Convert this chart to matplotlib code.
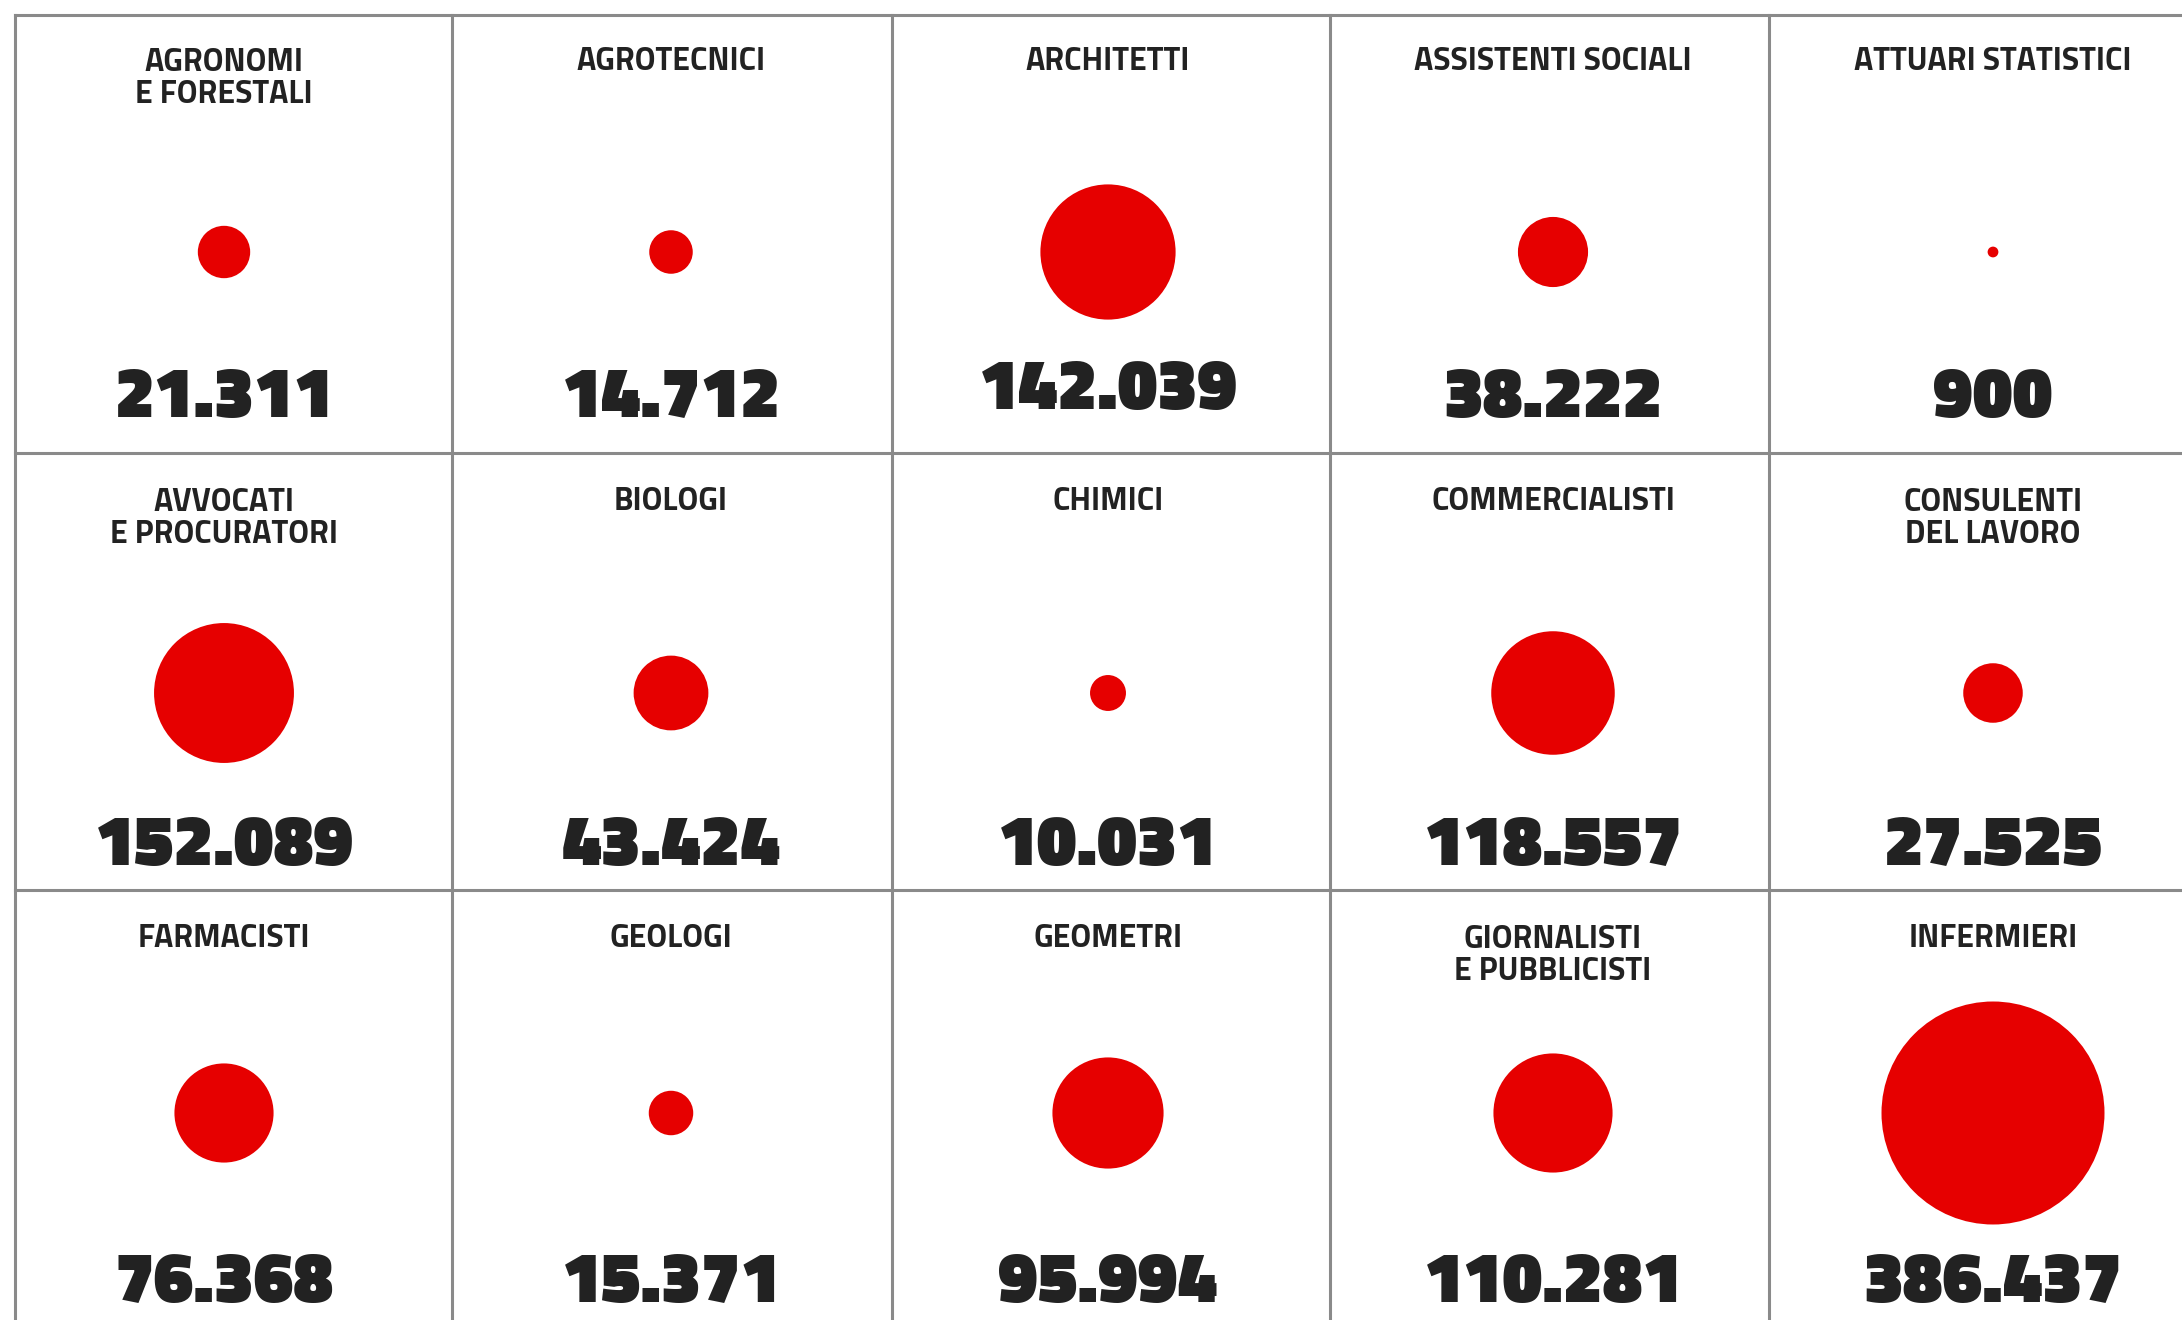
import numpy as np
import matplotlib.pyplot as plt
from matplotlib.patches import Circle

# professioni e iscritti
professions = [
    "AGRONOMI\nE FORESTALI", "AGROTECNICI", "ARCHITETTI", "ASSISTENTI SOCIALI", "ATTUARI STATISTICI",
    "AVVOCATI\nE PROCURATORI", "BIOLOGI", "CHIMICI", "COMMERCIALISTI", "CONSULENTI\nDEL LAVORO",
    "FARMACISTI", "GEOLOGI", "GEOMETRI", "GIORNALISTI\nE PUBBLICISTI", "INFERMIERI",
]
members = [
    21311, 14712, 142039, 38222, 900,
    152089, 43424, 10031, 118557, 27525,
    76368, 15371, 95994, 110281, 386437,
]

# layout in pixel
W, H = 2182, 1320
col_lines = [15, 452, 892, 1330, 1769]
row_lines = [15, 453, 890]
col_centers = [224, 671, 1108, 1553, 1993]
title_base = [70, 510, 947]
line_gap = 33
circle_y = [252, 693, 1113]
number_base = [417, 865, 1302]
max_radius = 111.5

red = "#e60000"
dark = "#222222"
grid_color = "#8a8a8a"
font = "Titillium Web"

fig = plt.figure(figsize=(W / 100, H / 100), dpi=100)
ax = fig.add_axes([0, 0, 1, 1])
ax.set_xlim(0, W)
ax.set_ylim(H, 0)
ax.set_aspect("equal")
ax.axis("off")

for x in col_lines:
    ax.plot([x, x], [row_lines[0], H], color=grid_color, linewidth=2.2)
for y in row_lines:
    ax.plot([col_lines[0], W], [y, y], color=grid_color, linewidth=2.2)

vmax = max(members)
for i, (name, value) in enumerate(zip(professions, members)):
    r, c = divmod(i, 5)
    cx = col_centers[c]

    # area proporzionale al numero di iscritti
    radius = max_radius * np.sqrt(value / vmax)
    ax.add_patch(Circle((cx, circle_y[r]), radius, color=red, linewidth=0))

    # baseline dell'ultima riga del titolo
    y_title = title_base[r] + line_gap * name.count("\n")
    ax.text(cx, y_title, name, ha="center", va="baseline", fontsize=23,
            fontfamily=font, fontweight=700, color=dark, linespacing=1.08)

    label = f"{value:,}".replace(",", ".")
    y = number_base[r]
    if value == 142039:
        y -= 8
    ax.text(cx, y, label, ha="center", va="baseline", fontsize=52,
            fontfamily=font, fontweight=900, color=dark)

fig.savefig("out.png", dpi=100, facecolor="white")
